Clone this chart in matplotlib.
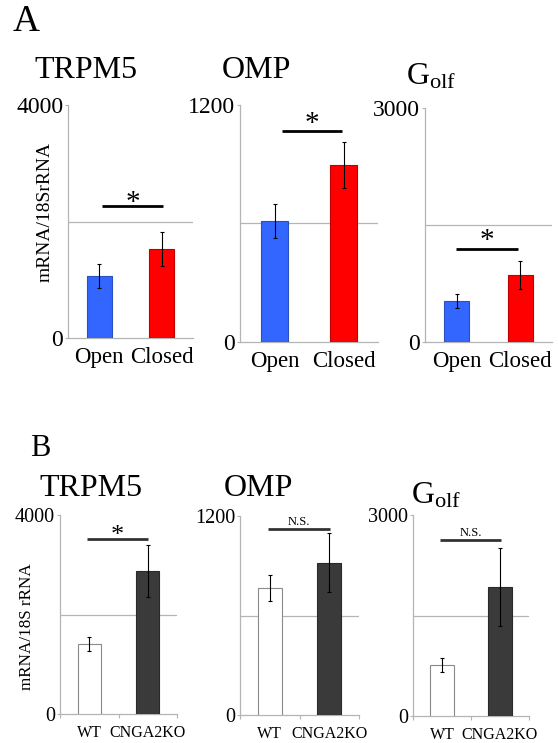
import matplotlib
matplotlib.use("Agg")
import matplotlib.pyplot as plt

W, H = 558, 743

# ---- data ----
open_closed = ["Open", "Closed"]
wt_ko = ["WT", "CNGA2KO"]
genes = ["TRPM5", "OMP", r"G$_{\mathrm{olf}}$"]

a_means = [[1064, 1528], [613, 896], [526, 859]]
a_errs = [[200, 300], [84, 117], [90, 180]]
a_ymax = [4000, 1200, 3000]
a_sig = [2266, 1068, 1192]
a_marks = ["*", "*", "*"]

b_means = [[1407, 2874], [766, 917], [761, 1925]]
b_errs = [[150, 530], [81, 178], [105, 587]]
b_ymax = [4000, 1200, 3000]
b_sig = [3518, 1122, 2627]
b_marks = ["*", "N.S.", "N.S."]

plt.rcParams["font.family"] = ["Liberation Serif", "DejaVu Serif"]
plt.rcParams["mathtext.fontset"] = "custom"
plt.rcParams["mathtext.rm"] = "Liberation Serif"
plt.rcParams["mathtext.it"] = "Liberation Serif:italic"

fig = plt.figure(figsize=(W / 100, H / 100), dpi=100)

GREY = "#b4b4b4"


def box(x0, x1, yt, yb):
    return [x0 / W, 1 - yb / H, (x1 - x0) / W, (yb - yt) / H]


def panel(rect, means, errs, ymax, sig, sig_x, mark, mark_off, cats, colors,
          edges, tick_fs, xtick_fs, sig_color, mark_fs, boundary_ticks):
    ax = fig.add_axes(rect)
    x = [0, 1]
    ax.bar(x, means, width=0.4, color=colors, edgecolor=edges, linewidth=0.8,
           zorder=3)
    ax.errorbar(x, means, yerr=errs, fmt="none", ecolor="black",
                elinewidth=0.8, capsize=1.6, capthick=0.8, zorder=4)
    ax.axhline(ymax / 2, color=GREY, linewidth=0.9, zorder=1)
    ax.plot(sig_x, [sig, sig], color=sig_color, linewidth=2.0, zorder=5,
            solid_capstyle="butt")
    ax.annotate(mark, xy=(sum(sig_x) / 2, sig), xytext=(0, mark_off),
                textcoords="offset points", ha="center", va="center",
                fontsize=mark_fs, color="black")
    ax.set_xlim(-0.5, 1.5)
    ax.set_ylim(0, ymax)
    ax.set_yticks([0, ymax])
    ax.set_yticklabels(["0", str(ymax)], fontsize=tick_fs)
    ax.set_xticks(x)
    ax.set_xticklabels(cats, fontsize=xtick_fs)
    ax.tick_params(axis="x", length=0, pad=6.5)
    ax.tick_params(axis="y", length=2.5, width=0.8, color=GREY, pad=1)
    if boundary_ticks:
        ax.set_xticks([-0.5, 0.5, 1.5], minor=True)
        ax.tick_params(axis="x", which="minor", length=3, width=0.8,
                       color=GREY)
        ax.tick_params(axis="x", which="major", pad=8)
    for s in ["top", "right"]:
        ax.spines[s].set_visible(False)
    for s in ["left", "bottom"]:
        ax.spines[s].set_color(GREY)
        ax.spines[s].set_linewidth(0.9)
    return ax


# ---- panel A ----
a_boxes = [box(68, 193, 105, 338), box(240, 378, 105, 342),
           box(425, 552, 108, 342)]
a_sigx = [[0.05, 1.02], [0.11, 0.98], [-0.01, 0.97]]
a_off = [2, 5, 6]
for i in range(3):
    panel(a_boxes[i], a_means[i], a_errs[i], a_ymax[i], a_sig[i], a_sigx[i],
          a_marks[i], a_off[i], open_closed, ["#3366ff", "#ff0000"],
          ["#2a4fc0", "#c00000"], 17, 16.5, "black", 21, False)

# ---- panel B ----
b_boxes = [box(60, 177, 515, 714), box(240, 359, 516, 715),
           box(413, 529, 515, 716)]
b_sigx = [[-0.04, 1.0], [-0.03, 1.01], [-0.03, 1.02]]
b_off = [2, 5, 5]
b_fs = [19, 9, 9]
for i in range(3):
    panel(b_boxes[i], b_means[i], b_errs[i], b_ymax[i], b_sig[i], b_sigx[i],
          b_marks[i], b_off[i], wt_ko, ["white", "#3a3a3a"],
          ["#8a8a8a", "#2a2a2a"], 14.5, 11.5, "#333333", b_fs[i], True)

# ---- titles and labels ----
def ftext(px, py, s, **kw):
    fig.text(px / W, 1 - py / H, s, ha="center", va="center", **kw)


ftext(26, 22, "A", fontsize=27)
ftext(40, 448, "B", fontsize=22)

for (px, py), g in zip([(86, 71), (256, 71), (431, 77)], genes):
    ftext(px, py, g, fontsize=23)
for (px, py), g in zip([(91, 489), (258, 489), (436, 496)], genes):
    ftext(px, py, g, fontsize=23)

ftext(45, 212, "mRNA/18SrRNA", fontsize=14, rotation=90)
ftext(27, 627, "mRNA/18S rRNA", fontsize=12.3, rotation=90)

fig.savefig("out.png", dpi=100)
